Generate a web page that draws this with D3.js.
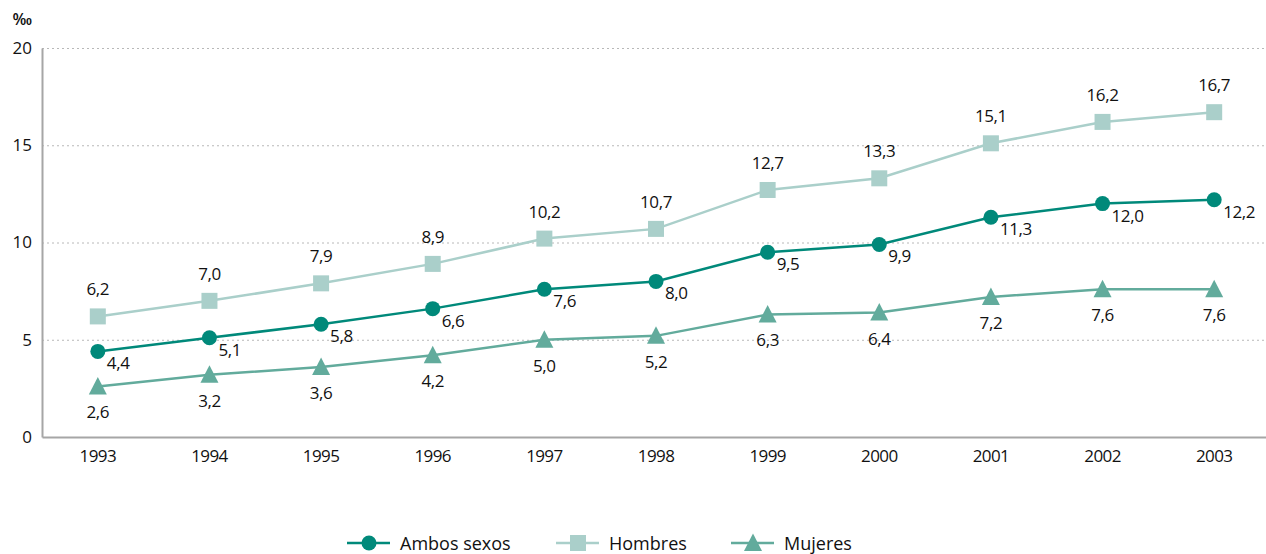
<!DOCTYPE html>
<html>
<head>
<meta charset="utf-8">
<script src="https://cdn.jsdelivr.net/npm/d3@7/dist/d3.min.js"></script>
<style>
  html, body { margin: 0; padding: 0; background: #fff; }
  svg { display: block; font-family: "Open Sans", "Noto Sans", sans-serif; }
</style>
</head>
<body>
<svg id="chart" width="1266" height="554"></svg>
<script>
// Tasa por mil, 1993-2003
const years = ["1993","1994","1995","1996","1997","1998","1999","2000","2001","2002","2003"];
const ambosSexos = [4.4, 5.1, 5.8, 6.6, 7.6, 8.0, 9.5, 9.9, 11.3, 12.0, 12.2];
const hombres    = [6.2, 7.0, 7.9, 8.9, 10.2, 10.7, 12.7, 13.3, 15.1, 16.2, 16.7];
const mujeres    = [2.6, 3.2, 3.6, 4.2, 5.0, 5.2, 6.3, 6.4, 7.2, 7.6, 7.6];
const yTicks = [0, 5, 10, 15, 20];
const unitLabel = "‰";

const series = [
  { name: "Ambos sexos", values: ambosSexos, color: "#00897a", marker: "circle",   label: "right" },
  { name: "Hombres",     values: hombres,    color: "#aacfca", marker: "square",   label: "above" },
  { name: "Mujeres",     values: mujeres,    color: "#62ab9c", marker: "triangle", label: "below" }
];

const svg = d3.select("#chart");
const margin = { left: 42, right: -4, top: 48, bottom: 117 };
const W = 1266, H = 554;
const ink = "#111";

const x = d3.scaleBand().domain(years).range([margin.left, W - margin.right]);
const y = d3.scaleLinear().domain([0, 20]).range([H - margin.bottom, margin.top]);
const cx = d => x(d) + x.bandwidth() / 2;

// grid
svg.append("g")
  .selectAll("line")
  .data(yTicks.filter(t => t > 0))
  .join("line")
  .attr("x1", margin.left).attr("x2", W)
  .attr("y1", d => y(d) + 0.5).attr("y2", d => y(d) + 0.5)
  .attr("stroke", "#b8b8b8").attr("stroke-width", 1)
  .attr("stroke-dasharray", "2,3");

// y axis
const yAxis = svg.append("g")
  .attr("transform", `translate(${margin.left},0)`)
  .call(d3.axisLeft(y).tickValues(yTicks).tickSize(0).tickPadding(10).tickFormat(d3.format("d")));
yAxis.select(".domain").attr("stroke", "#a6a6a6").attr("stroke-width", 2);
yAxis.selectAll("text").attr("font-size", 17).attr("fill", ink)
  .attr("font-family", "'Open Sans', sans-serif");

svg.append("text")
  .attr("x", 32).attr("y", 25)
  .attr("text-anchor", "end")
  .attr("font-size", 16).attr("font-weight", 600).attr("fill", ink)
  .text(unitLabel);

// x axis
const xAxis = svg.append("g")
  .attr("transform", `translate(0,${y(0)})`)
  .call(d3.axisBottom(x).tickSize(0).tickPadding(13));
xAxis.select(".domain").attr("stroke", "#a6a6a6").attr("stroke-width", 2);
xAxis.selectAll("text").attr("font-size", 17).attr("fill", ink)
  .attr("font-family", "'Open Sans', sans-serif")
  .attr("letter-spacing", "-0.6px");

const fmt = v => d3.format(".1f")(v).replace(".", ",");

function drawMarker(g, type, color) {
  if (type === "circle") {
    g.append("circle").attr("r", 7.5).attr("fill", color);
  } else if (type === "square") {
    g.append("rect").attr("x", -8).attr("y", -8).attr("width", 16).attr("height", 16).attr("fill", color);
  } else {
    g.append("path").attr("d", "M0,-9.5 L9,8 L-9,8 Z").attr("fill", color);
  }
}

const line = d3.line().x((d, i) => cx(years[i])).y(d => y(d));

series.forEach(s => {
  const g = svg.append("g");
  g.append("path")
    .attr("d", line(s.values))
    .attr("fill", "none")
    .attr("stroke", s.color)
    .attr("stroke-width", 2.5);

  s.values.forEach((v, i) => {
    const m = g.append("g").attr("transform", `translate(${cx(years[i])},${y(v)})`);
    drawMarker(m, s.marker, s.color);
  });

  const lbl = g.append("g").selectAll("text")
    .data(s.values)
    .join("text")
    .attr("font-size", 17)
    .attr("fill", ink)
    .attr("letter-spacing", "-0.4px")
    .text(fmt);

  if (s.label === "above") {
    lbl.attr("x", (d, i) => cx(years[i])).attr("y", d => y(d) - 21).attr("text-anchor", "middle");
  } else if (s.label === "below") {
    lbl.attr("x", (d, i) => cx(years[i])).attr("y", d => y(d) + 32).attr("text-anchor", "middle");
  } else {
    lbl.attr("x", (d, i) => cx(years[i]) + 9).attr("y", d => y(d) + 18).attr("text-anchor", "start");
  }
});

// legend
const legendX = [347, 556, 731];
const legendY = 543;
series.forEach((s, i) => {
  const g = svg.append("g").attr("transform", `translate(${legendX[i]},${legendY})`);
  g.append("line").attr("x1", 0).attr("x2", 43).attr("y1", 0).attr("y2", 0)
    .attr("stroke", s.color).attr("stroke-width", 2.5);
  const m = g.append("g").attr("transform", "translate(22,0)");
  drawMarker(m, s.marker, s.color);
  g.append("text").attr("x", 53).attr("y", 7)
    .attr("font-size", 18).attr("fill", ink)
    .text(s.name);
});
</script>
</body>
</html>
